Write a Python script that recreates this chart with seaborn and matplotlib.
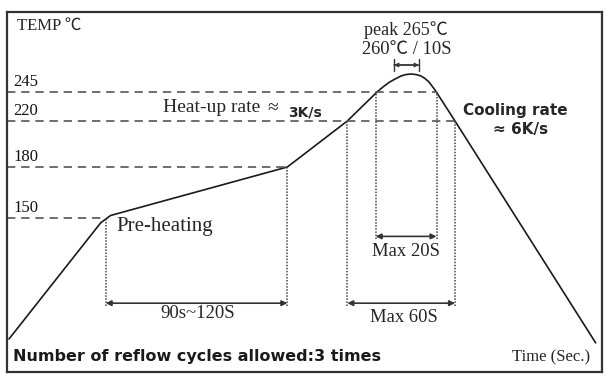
import numpy as np
import pandas as pd
import matplotlib
matplotlib.use("Agg")
import matplotlib.pyplot as plt
import seaborn as sns

# ---------------- data ----------------
time_s = [0, 55, 61, 167, 203, 220.8, 224.4, 228, 231.6, 235.2, 238.2, 241.2, 244.2,
          247.2, 249.6, 252, 253.8, 255.6, 256.8, 267.6, 352]
temp_c = [25, 145, 151.5, 180, 220, 245, 250.6, 255.6, 259.4, 262.8, 264.4, 265, 264.4,
          262.8, 260, 256.1, 251.7, 247.2, 244.1, 220, 21]

tick_temps = [150, 180, 220, 245]
level_end = {150: 58, 180: 167, 220: 267.6, 245: 256.5}

preheat_window = [58, 167]      # 90s~120S
liquidus_window = [203, 267.6]  # Max 60S (above 220)
t245_window = [220, 256.5]      # Max 20S (above 245)
peak_window = [231, 246]        # 260C / 10S

# ---------------- schematic temperature scale ----------------
T_knots = np.array([-100, 25, 150, 180, 220, 245, 265, 400], dtype=float)
P_knots = np.array([-80, 41, 162, 213, 259, 288, 306, 427.5], dtype=float)
def fwd(t):
    return np.interp(t, T_knots, P_knots)
def inv(p):
    return np.interp(p, P_knots, T_knots)

W, H = 609, 380
fig = plt.figure(figsize=(W / 100, H / 100), dpi=100)
sns.set_style("white")
ax = fig.add_axes([7 / W, 8 / H, 595 / W, 360 / H])

serif = ["Liberation Serif", "Noto Sans CJK SC", "DejaVu Serif"]
sans_b = ["DejaVu Sans", "Noto Sans CJK SC"]

ax.set_yscale("function", functions=(fwd, inv))
ax.set_xlim(-1.2, 355.8)
ax.set_ylim(-9.1, 333.9)

df = pd.DataFrame({"time": time_s, "temp": temp_c})
sns.lineplot(data=df, x="time", y="temp", ax=ax, color="#1a1a1a", lw=1.2, sort=False)

dash_col = "#555555"
for T in tick_temps:
    ax.plot([-1.2, level_end[T]], [T, T], ls=(0, (5, 3.5)), color=dash_col, lw=1.2)
    ax.annotate(str(T), xy=(2.5, T), xytext=(0, 1.5), textcoords="offset points",
                ha="left", va="bottom", fontsize=12, family=serif, color="#111111")

dot_col = "#444444"
def vline(t, top, bottom):
    ax.plot([t, t], [bottom, top], ls=(0, (1, 1)), color=dot_col, lw=1.1)

vline(preheat_window[0], 150, 59)
vline(preheat_window[1], 180, 59)
vline(liquidus_window[0], 220, 59)
vline(liquidus_window[1], 220, 59)
vline(t245_window[0], 245, 128)
vline(t245_window[1], 245, 128)

arrow_kw = dict(arrowstyle="<|-|>", color="#333333", lw=1.2, mutation_scale=8, shrinkA=0, shrinkB=0)
ax.annotate("", xy=(preheat_window[0], 62), xytext=(preheat_window[1], 62), arrowprops=arrow_kw)
ax.annotate("", xy=(liquidus_window[0], 62), xytext=(liquidus_window[1], 62), arrowprops=arrow_kw)
ax.annotate("", xy=(t245_window[0], 131), xytext=(t245_window[1], 131), arrowprops=arrow_kw)
ax.annotate("", xy=(peak_window[0], 275), xytext=(peak_window[1], 275),
            arrowprops=dict(arrowstyle="<->", color="#333333", lw=1.0, mutation_scale=6, shrinkA=0, shrinkB=0))
ax.annotate("", xy=(peak_window[0], 275), xytext=(peak_window[1], 275),
            arrowprops=dict(arrowstyle="|-|", color="#333333", lw=1.0, mutation_scale=4, shrinkA=0, shrinkB=0))

def ftxt(x, y, s, **kw):
    fig.text(x / W, 1 - y / H, s, **kw)

ftxt(17, 26, "TEMP ℃", ha="left", va="center", fontsize=12, family=serif)
ftxt(406, 30, "peak 265℃", ha="center", va="center", fontsize=13, family=serif)
ftxt(407, 49, "260℃ / 10S", ha="center", va="center", fontsize=13.3, family=serif)
ftxt(163, 108, "Heat-up rate", ha="left", va="center", fontsize=14, family=serif)
ftxt(267, 108, "≈", ha="left", va="center", fontsize=14, family=serif)
ftxt(288, 112, "3K/s", ha="left", va="center", fontsize=10, family=sans_b, weight="bold")
ftxt(463, 110, "Cooling rate", ha="left", va="center", fontsize=11, family=sans_b, weight="bold")
ftxt(521, 130, "≈ 6K/s", ha="center", va="center", fontsize=11, family=sans_b, weight="bold")
ftxt(116, 227, "Pre-heating", ha="left", va="center", fontsize=15, family=serif)
ftxt(198, 314, "90s~120S", ha="center", va="center", fontsize=13.5, family=serif)
ftxt(406, 252, "Max 20S", ha="center", va="center", fontsize=13.4, family=serif)
ftxt(404, 317, "Max 60S", ha="center", va="center", fontsize=13.4, family=serif)
ftxt(13, 357, "Number of reflow cycles allowed:3 times", ha="left", va="center",
     fontsize=11.5, family=sans_b, weight="bold", color="#1a1a1a")
ftxt(590, 357, "Time (Sec.)", ha="right", va="center", fontsize=12, family=serif)

ax.set_xticks([])
ax.set_yticks([], minor=False)
ax.set_yticks([], minor=True)
ax.set_xlabel("")
ax.set_ylabel("")
for s in ax.spines.values():
    s.set_visible(True)
    s.set_color("#333333")
    s.set_linewidth(1.6)

fig.savefig("out.png", dpi=100, facecolor="white")
